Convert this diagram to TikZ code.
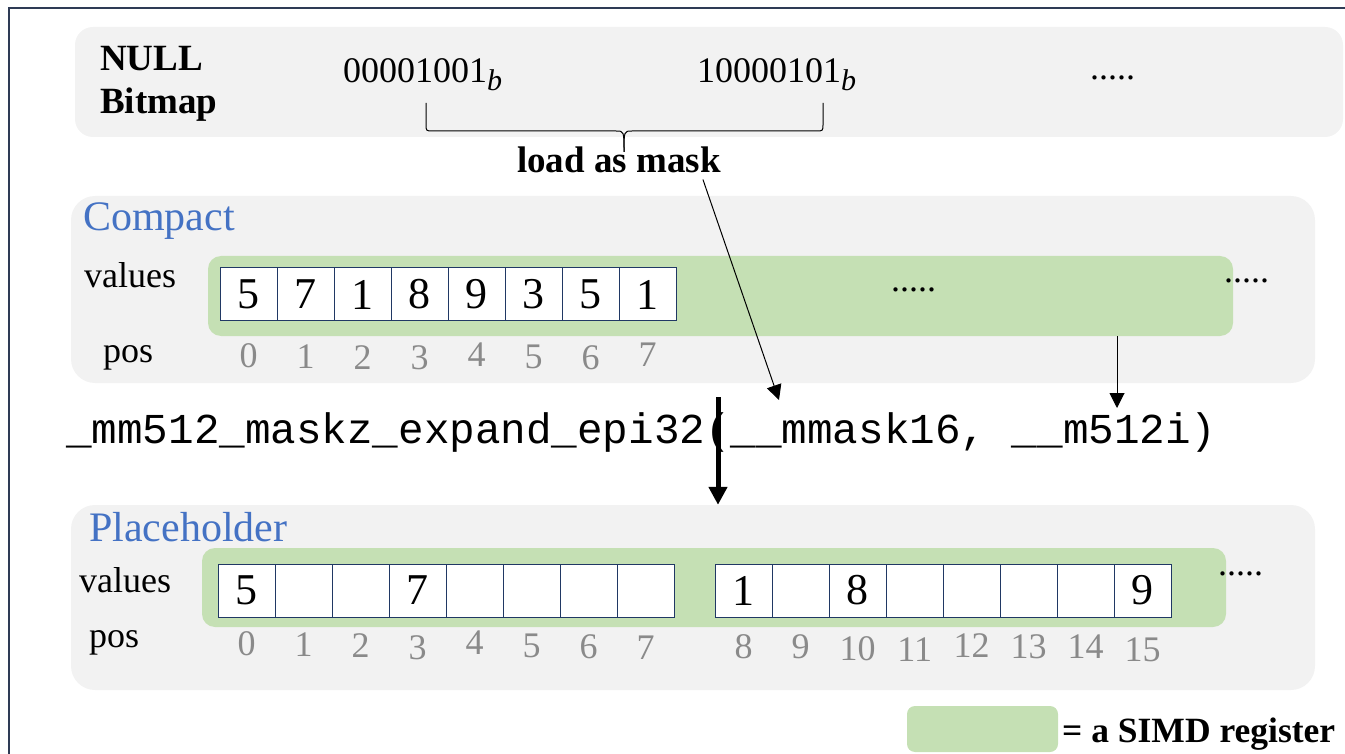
\documentclass[tikz,border=0pt]{standalone}
\usepackage{fontspec}
\setmainfont{Liberation Serif}
\setmonofont{Liberation Mono}
\usepackage{tikz}
\usetikzlibrary{positioning,arrows.meta,calc}
\definecolor{SDFrame}{HTML}{2E3B55}
\definecolor{SDPanel}{HTML}{F2F2F2}
\definecolor{SDGreen}{HTML}{C5E0B4}
\definecolor{SDBlue}{HTML}{4472C4}
\definecolor{SDCell}{HTML}{203864}
\definecolor{SDGray}{HTML}{8A8A8A}
\newcommand{\fsz}[1]{\fontsize{#1}{#1}\selectfont}
\newcommand{\binsub}{\raisebox{-8pt}{\fsz{30}\itshape b}}
\tikzset{
  sdpanel/.style={
    rectangle,
    rounded corners=24pt,
    fill=SDPanel,
    draw=none,
    inner sep=0pt
  },
  sdreg/.style={rectangle,rounded corners=13pt,fill=SDGreen,draw=none,inner sep=0pt},
  sdcell/.style={rectangle,draw=SDCell,line width=1pt,fill=white,inner sep=0pt,outer sep=0pt,
    minimum width=57pt,minimum height=53pt,font=\fsz{44}},
  sdtext/.style={font=\fsz{36},inner sep=0pt,anchor=base west},
  sdtitle/.style={sdtext,font=\fsz{42},text=SDBlue},
  sdbold/.style={sdtext,font=\bfseries\fsz{37}},
  sdpos/.style={font=\fsz{36},text=SDGray,inner sep=0pt,anchor=base},
  sdcode/.style={font=\ttfamily\fsz{42.6},inner sep=0pt,anchor=base west},
  sdarrow/.style={-{Triangle[length=15pt,width=15pt]},line width=1pt,draw=black},
  sdthick/.style={-{Triangle[length=18pt,width=18pt]},line width=5pt,draw=black},
}
\begin{document}
\begin{tikzpicture}[x=1pt,y=-1pt,node distance=0pt]
  \useasboundingbox (0,0) rectangle (1345,754);
  \draw[SDFrame,line width=1.6pt] (9,8) rectangle (1400,800);

  \node[sdpanel,minimum width=1268pt,minimum height=110pt,rounded corners=18pt] (bmp) at (709,82) {};
  \node[sdpanel,minimum width=1244pt,minimum height=187pt] (cmp) at (693,289.5) {};
  \node[sdpanel,minimum width=1244pt,minimum height=185pt] (plc) at (693,597.5) {};

  \node[sdreg,minimum width=1025pt,minimum height=80pt] (creg) at (720.5,296) {};
  \node[sdreg,minimum width=1024pt,minimum height=79pt] (preg) at (714,587.5) {};

  \node[sdbold,anchor=west,align=left,font=\bfseries\fontsize{37}{43}\selectfont] (nullbm) at (100,84.3)
    {NULL\\Bitmap};
  \node[sdtext] (bm1) at (343,83) {00001001\binsub};
  \node[sdtext] (bm2) at (697,83) {10000101\binsub};
  \node[sdtext] (bmdots) at (1090,80) {.....};

  \draw[line width=1pt] (426,103) -- (426,124) .. controls (426,131) .. (433,131) -- (616,131)
    .. controls (624,131) .. (624,152);
  \draw[line width=1pt] (823,103) -- (823,124) .. controls (823,131) .. (816,131) -- (632,131)
    .. controls (624,131) .. (624,152);
  \node[sdbold] (mask) at (517,173) {load as mask};

  \node[sdtitle] (cmptitle) at (83,231) {Compact};
  \node[sdtext] (cvals) at (84,288) {values};
  \node[sdtext] (cpos) at (103,362) {pos};

  \node[sdcell] (c0) at (248.5,294.5) {5};
  \foreach \prev/\cur/\val in {0/1/7,1/2/1,2/3/8,3/4/9,4/5/3,5/6/5,6/7/1}
    \node[sdcell,right=of c\prev] (c\cur) {\val};
  \foreach \nodeName/\number/\dy in {c0/0/46,c1/1/47,c2/2/48,c3/3/49,c4/4/45,c5/5/47,c6/6/49,c7/7/45}
    \node[sdpos] at ($(\nodeName.south)+(0,\dy)$) {\number};
  \node[sdtext] (cdots) at (891,291) {.....};
  \node[sdtext] (cmore) at (1224,283) {.....};

  \node[sdcode] (fn) at (66,443) {\_mm512\_maskz\_expand\_epi32(\_\_mmask16, \_\_m512i)};
  \coordinate (mskin) at (779,400);
  \coordinate (regin) at (1117,408);
  \coordinate (thk) at (718,397);

  \node[sdtitle] (plctitle) at (89,541) {Placeholder};
  \node[sdtext] (pvals) at (79,592) {values};
  \node[sdtext] (ppos) at (89,647) {pos};

  \node[sdcell] (p0) at (246.5,590.5) {5};
  \foreach \prev/\cur/\val in {0/1/,1/2/,2/3/7,3/4/,4/5/,5/6/,6/7/}
    \node[sdcell,right=of p\prev] (p\cur) {\val};
  \node[sdcell] (p8) at (743.7,590.5) {1};
  \foreach \prev/\cur/\val in {8/9/,9/10/8,10/11/,11/12/,12/13/,13/14/,14/15/9}
    \node[sdcell,right=of p\prev] (p\cur) {\val};
  \foreach \nodeName/\number/\dy in {p0/0/38,p1/1/39,p2/2/40,p3/3/42,p4/4/37,p5/5/40,p6/6/41,p7/7/42,
    p8/8/41,p9/9/41,p10/10/43,p11/11/44,p12/12/40,p13/13/41,p14/14/41,p15/15/44}
    \node[sdpos] at ($(\nodeName.south)+(0,\dy)$) {\number};
  \node[sdtext] (pmore) at (1218,575) {.....};

  \draw[sdarrow] ([xshift=-18pt,yshift=-6pt]mask.south east) -- (mskin);
  \draw[sdarrow] (creg.south -| regin) -- (regin);
  \draw[sdthick] (thk) -- (plc.north -| thk);

  \node[sdreg,minimum width=151pt,minimum height=46pt,rounded corners=8pt] (legreg) at (982.5,729) {};
  \node[sdbold,font=\bfseries\fsz{35.5}] (legtext) at (1062,742) {= a SIMD register};
\end{tikzpicture}
\end{document}
